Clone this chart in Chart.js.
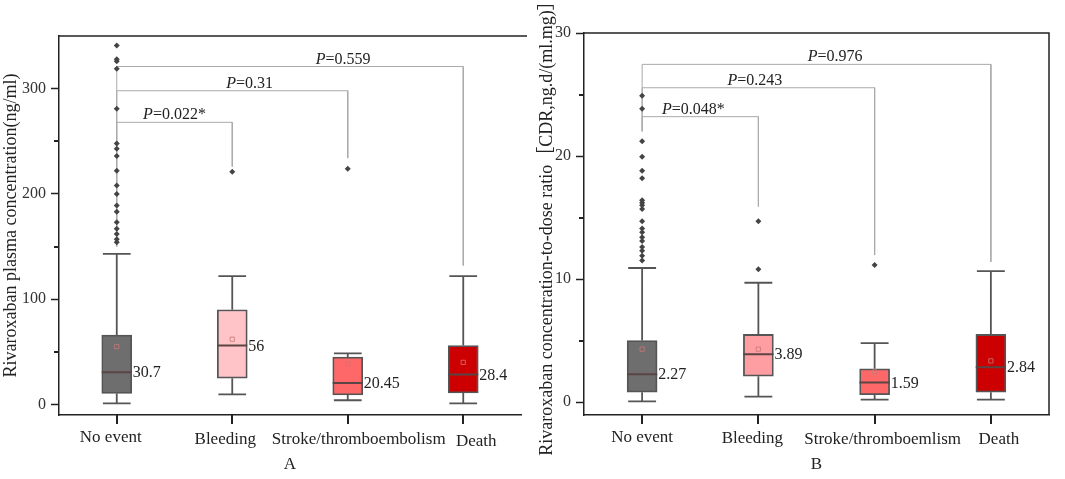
<!DOCTYPE html>
<html>
<head>
<meta charset="utf-8">
<script src="https://cdn.jsdelivr.net/npm/chart.js@4.4.0/dist/chart.umd.min.js"></script>
<style>
  html, body { margin: 0; padding: 0; background: #fff; }
  .wrap { position: relative; width: 1065px; height: 479px; overflow: hidden; }
  canvas { position: absolute; top: 0; }
  #chartA { left: 0; }
  #chartB { left: 532px; }
</style>
</head>
<body>
<div class="wrap">
  <canvas id="chartA" width="532" height="479"></canvas>
  <canvas id="chartB" width="533" height="479"></canvas>
</div>
<script>
// categories
const groupsA = ['No event', 'Bleeding', 'Stroke/thromboembolism', 'Death'];
const groupsB = ['No event', 'Bleeding', 'Stroke/thromboemlism', 'Death'];
const boxColorsA = ['#6e6e6e', '#ffc4c8', '#ff6868', '#cc0000'];
const boxColorsB = ['#6e6e6e', '#ff9ea2', '#ff6868', '#cc0000'];

// A: plasma concentration (ng/ml)
const concLow = [1, 9.5, 4, 1];
const concQ1 = [10.5, 25, 9, 11];
const concMedian = [30.7, 56, 20.45, 28.4];
const concQ3 = [66, 90, 45, 56];
const concHigh = [143, 122, 48.5, 122];
const concMean = [55, 62, 39, 40];
const concOutliers = [
  [341, 328, 326, 319, 281, 248, 243, 236, 222, 208, 200, 189, 183, 173, 167, 162, 157, 154],
  [221],
  [224],
  []
];
const concTicks = [0, 100, 200, 300];
const concMinor = [50, 150, 250];
const concP = ['0.022*', '0.31', '0.559'];
const concPTo = [1, 2, 3];
const concPLevel = [268, 298, 321];
const concPEnd = [226, 234, 132];
const concPLabelX = [0.5, 1.15, 1.96];

// B: concentration-to-dose ratio
const cdrLow = [0.05, 0.45, 0.2, 0.2];
const cdrQ1 = [0.8, 2.1, 0.6, 0.8];
const cdrMedian = [2.27, 3.89, 1.59, 2.84];
const cdrQ3 = [5.0, 5.5, 2.7, 5.5];
const cdrHigh = [10.9, 9.7, 4.8, 10.65];
const cdrMean = [4.3, 4.3, 2.45, 3.35];
const cdrOutliers = [
  [24.9, 23.85, 21.2, 19.95, 18.8, 18.2, 16.4, 16.2, 16.0, 15.7, 14.7, 14.1, 13.8, 13.4, 13.1, 12.6, 12.3, 11.9, 11.5],
  [14.7, 10.8],
  [11.15],
  []
];
const cdrTicks = [0, 10, 20, 30];
const cdrMinor = [5, 15, 25];
const cdrP = ['0.048*', '0.243', '0.976'];
const cdrPTo = [1, 2, 3];
const cdrPLevel = [23.2, 25.55, 27.45];
const cdrPEnd = [15.9, 11.95, 11.4];
const cdrPLabelX = [0.44, 0.97, 1.66];

const SERIF = '"Liberation Serif", "Times New Roman", serif';
const BOX_HALF = 0.13;
const CAP = 0.12;
const gap = (x) => ({ x: x, y: null });

function makePanel(id, opt) {
  const n = opt.groups.length;

  // whiskers + caps
  const whiskers = [];
  for (let i = 0; i < n; i++) {
    whiskers.push({ x: i, y: opt.low[i] }, { x: i, y: opt.q1[i] }, gap(i));
    whiskers.push({ x: i, y: opt.q3[i] }, { x: i, y: opt.high[i] }, gap(i));
    whiskers.push({ x: i - CAP, y: opt.high[i] }, { x: i + CAP, y: opt.high[i] }, gap(i));
    whiskers.push({ x: i - CAP, y: opt.low[i] }, { x: i + CAP, y: opt.low[i] }, gap(i));
  }

  const medians = [];
  for (let i = 0; i < n; i++) {
    medians.push({ x: i - BOX_HALF, y: opt.median[i] }, { x: i + BOX_HALF, y: opt.median[i] }, gap(i));
  }

  const outliers = [];
  opt.outliers.forEach((list, i) => list.forEach(v => outliers.push({ x: i, y: v })));

  // significance brackets, all start at the first group
  const brackets = [];
  for (let k = 0; k < opt.pText.length; k++) {
    brackets.push({ x: 0, y: opt.pLeftEnd }, { x: 0, y: opt.pLevel[k] },
      { x: opt.pTo[k], y: opt.pLevel[k] }, { x: opt.pTo[k], y: opt.pEnd[k] }, gap(0));
  }

  const decor = {
    id: 'decor',
    afterDraw(chart) {
      const { ctx, chartArea: { left, right, top, bottom } } = chart;
      const xs = chart.scales.x;
      const ys = chart.scales.y;
      ctx.save();

      // top (and right) frame lines
      ctx.strokeStyle = '#222';
      ctx.lineWidth = 1.5;
      ctx.beginPath();
      ctx.moveTo(left, top);
      ctx.lineTo(right + opt.topExtra, top);
      if (opt.rightBorder) {
        ctx.lineTo(right, top);
        ctx.lineTo(right, bottom);
      }
      ctx.stroke();

      // minor y ticks and category ticks
      ctx.fillStyle = '#222';
      opt.minor.forEach(v => {
        const y = Math.round(ys.getPixelForValue(v));
        ctx.fillRect(left - 5, y - 1, 5, 2);
      });
      opt.groups.forEach((g, i) => {
        const x = Math.round(xs.getPixelForValue(i));
        ctx.fillRect(x - 1, bottom, 2, 9);
      });

      // category labels, nudged apart like the original
      ctx.font = '17px ' + SERIF;
      ctx.textAlign = 'center';
      ctx.textBaseline = 'middle';
      opt.groups.forEach((g, i) => {
        ctx.fillText(g, xs.getPixelForValue(i) + opt.labelShift[i], bottom + 23 + opt.labelDrop[i]);
      });

      // median labels
      ctx.font = '16px ' + SERIF;
      ctx.textAlign = 'left';
      opt.median.forEach((m, i) => {
        ctx.fillText(String(m), xs.getPixelForValue(i) + 16, ys.getPixelForValue(m) + 1);
      });

      // P values
      ctx.textBaseline = 'alphabetic';
      opt.pText.forEach((t, k) => {
        const cx = xs.getPixelForValue(opt.pLabelX[k]);
        const y = ys.getPixelForValue(opt.pLevel[k]) - 3;
        ctx.font = 'italic 16px ' + SERIF;
        const wP = ctx.measureText('P').width;
        ctx.font = '16px ' + SERIF;
        const rest = '=' + t;
        const wR = ctx.measureText(rest).width;
        const x0 = cx - (wP + wR) / 2;
        ctx.font = 'italic 16px ' + SERIF;
        ctx.fillText('P', x0, y);
        ctx.font = '16px ' + SERIF;
        ctx.fillText(rest, x0 + wP, y);
      });
      ctx.restore();
    }
  };

  return new Chart(document.getElementById(id), {
    type: 'bar',
    data: {
      datasets: [{
        type: 'scatter',
        data: outliers,
        pointStyle: 'rectRot',
        pointRadius: 3,
        backgroundColor: '#444',
        borderColor: '#444',
        borderWidth: 0,
        order: 0
      }, {
        type: 'scatter',
        data: opt.mean.map((v, i) => ({ x: i, y: v })),
        pointStyle: 'rect',
        pointRadius: 3,
        backgroundColor: 'rgba(0,0,0,0)',
        borderColor: 'rgba(200,120,120,0.8)',
        borderWidth: 1,
        order: 1
      }, {
        type: 'line',
        data: medians,
        borderColor: '#5a4444',
        borderWidth: 2,
        pointRadius: 0,
        spanGaps: false,
        order: 2
      }, {
        type: 'line',
        data: whiskers,
        borderColor: '#555',
        borderWidth: 1.8,
        pointRadius: 0,
        spanGaps: false,
        order: 3
      }, {
        type: 'line',
        data: brackets,
        borderColor: '#aaa',
        borderWidth: 1,
        pointRadius: 0,
        spanGaps: false,
        order: 4
      }, {
        type: 'bar',
        data: opt.q1.map((v, i) => ({ x: i, y: [v, opt.q3[i]] })),
        backgroundColor: opt.colors,
        borderColor: '#555',
        borderWidth: 1.8,
        borderSkipped: false,
        barThickness: 30,
        order: 5
      }]
    },
    options: {
      responsive: false,
      animation: false,
      events: [],
      layout: { padding: opt.padding },
      plugins: {
        legend: { display: false },
        tooltip: { enabled: false }
      },
      scales: {
        x: {
          type: 'linear',
          min: -0.5,
          max: 3.5,
          offset: false,
          afterBuildTicks: s => { s.ticks = [0, 1, 2, 3].map(v => ({ value: v })); },
          afterFit: s => { s.height = 64; },
          // labels and tick marks are drawn by the decor plugin so they can be nudged
          ticks: { display: false },
          grid: { display: false },
          border: { display: true, color: '#222', width: 1.5 },
          title: {
            display: true,
            text: opt.xTitle,
            color: '#222',
            font: { family: SERIF, size: 17 },
            padding: { top: 6, bottom: 4 }
          }
        },
        y: {
          type: 'linear',
          min: opt.yMin,
          max: opt.yMax,
          afterBuildTicks: s => { s.ticks = opt.ticks.map(v => ({ value: v })); },
          afterFit: s => { s.width = opt.yWidth; },
          ticks: {
            padding: 5,
            color: '#333',
            font: { family: SERIF, size: 16 }
          },
          grid: { offset: false, drawOnChartArea: false, drawTicks: true, tickLength: 8, tickColor: '#222', tickWidth: 1.5 },
          border: { display: true, color: '#222', width: 1.5 },
          title: {
            display: true,
            text: opt.yTitle,
            color: '#222',
            font: { family: SERIF + ', "Noto Sans CJK SC"', size: 18 },
            padding: opt.yTitlePad
          }
        }
      }
    },
    plugins: [decor]
  });
}

makePanel('chartA', {
  groups: groupsA, colors: boxColorsA,
  labelShift: [-6, -7, 11, 13], labelDrop: [0, 2, 2, 4],
  low: concLow, q1: concQ1, median: concMedian, q3: concQ3, high: concHigh, mean: concMean,
  outliers: concOutliers,
  ticks: concTicks, minor: concMinor, yMin: -10, yMax: 350,
  pText: concP, pTo: concPTo, pLevel: concPLevel, pEnd: concPEnd, pLabelX: concPLabelX, pLeftEnd: 150,
  xTitle: 'A',
  yTitle: 'Rivaroxaban plasma concentration(ng/ml)',
  yTitlePad: { top: 0, bottom: 0 },
  yWidth: 59,
  padding: { left: 0, right: 11, top: 36, bottom: 0 },
  topExtra: 6,
  rightBorder: false
});

makePanel('chartB', {
  groups: groupsB, colors: boxColorsB,
  labelShift: [0, -6, 8, 8], labelDrop: [0, 1, 2, 2],
  low: cdrLow, q1: cdrQ1, median: cdrMedian, q3: cdrQ3, high: cdrHigh, mean: cdrMean,
  outliers: cdrOutliers,
  ticks: cdrTicks, minor: cdrMinor, yMin: -1.05, yMax: 30,
  pText: cdrP, pTo: cdrPTo, pLevel: cdrPLevel, pEnd: cdrPEnd, pLabelX: cdrPLabelX, pLeftEnd: 22,
  xTitle: 'B',
  yTitle: 'Rivaroxaban concentration-to-dose ratio［CDR,ng.d/(ml.mg)］',
  yTitlePad: { top: 4, bottom: 0 },
  yWidth: 52,
  padding: { left: 0, right: 16, top: 33, bottom: 0 },
  topExtra: 0,
  rightBorder: true
});
</script>
</body>
</html>
